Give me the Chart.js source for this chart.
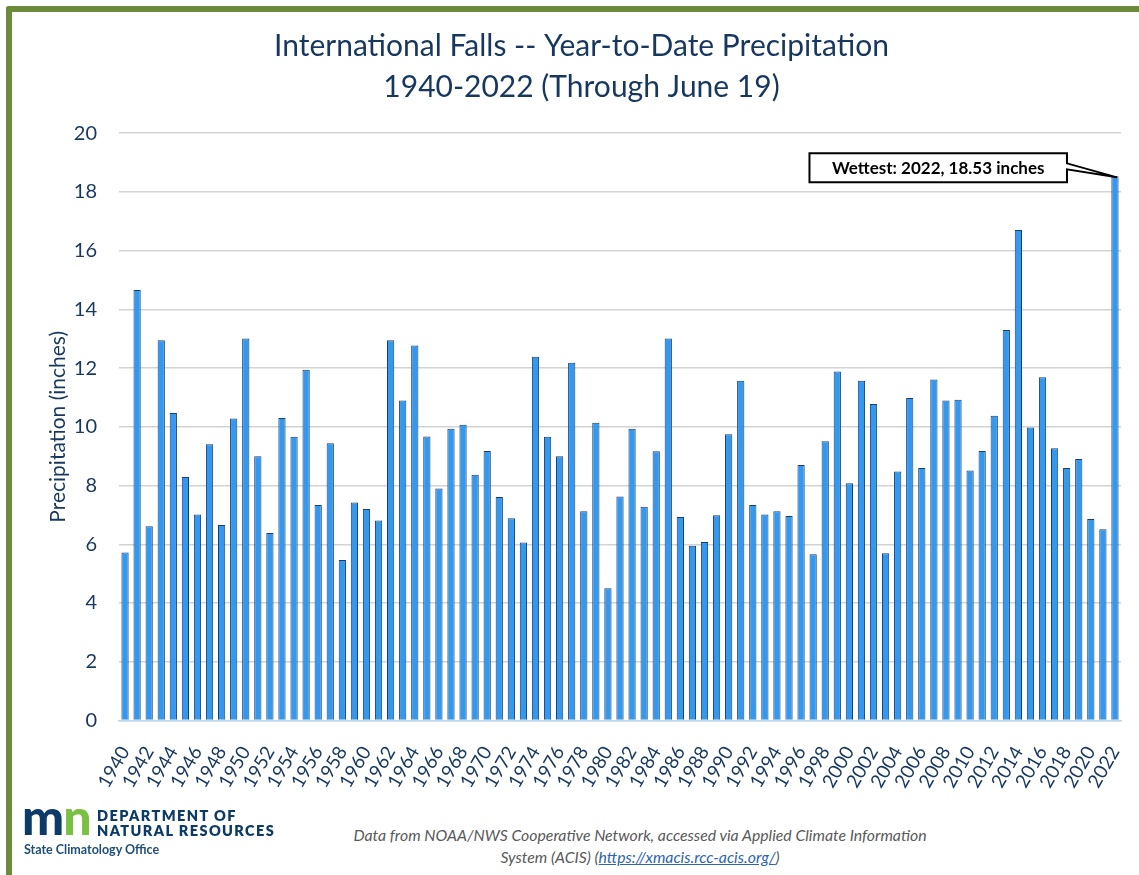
<!DOCTYPE html>
<html>
<head>
<meta charset="utf-8">
<script src="https://cdn.jsdelivr.net/npm/chart.js@4.4.0/dist/chart.umd.min.js"></script>
<style>
  html, body { margin: 0; padding: 0; background: #fff; }
  body { width: 1139px; height: 875px; position: relative; overflow: hidden; font-family: Lato, sans-serif; }
  .frame { position: absolute; left: 6px; top: 6px; width: 1200px; height: 900px;
    border-top: 6.5px solid #6B8A3A; border-left: 6.5px solid #6B8A3A; border-top-left-radius: 3px; }
  .wrap { position: absolute; left: 12px; top: 12px; width: 1127px; height: 794px; }
  .logo-mn { position: absolute; left: 22px; top: 791px; font: 900 50px/1 Lato, sans-serif; letter-spacing: -1px; }
  .logo-mn .m { color: #0B3B66; }
  .logo-mn .n { color: #7AC143; }
  .dept { position: absolute; left: 97px; top: 808px; font: 800 14.5px/15px Lato, sans-serif; color: #0B3B66; letter-spacing: 1.4px; }
  .office { position: absolute; left: 24px; top: 843px; font: 700 12.5px/14px Lato, sans-serif; color: #1F4E79; }
  .note { position: absolute; left: 290px; width: 700px; top: 824px; text-align: center;
    font: italic 15.8px/22px Lato, sans-serif; color: #595959; }
  .note a { color: #2E64B0; text-decoration: underline; }
</style>
</head>
<body>
<div class="frame"></div>
<div class="wrap"><canvas id="precipChart"></canvas></div>
<div class="logo-mn"><span class="m">m</span><span class="n">n</span></div>
<div class="dept">DEPARTMENT OF<br>NATURAL RESOURCES</div>
<div class="office">State Climatology Office</div>
<div class="note">Data from NOAA/NWS Cooperative Network, accessed via Applied Climate Information<br>System (ACIS) (<a>https://xmacis.rcc-acis.org/</a>)</div>
<script>
// Year-to-date precipitation through June 19, International Falls
const years = [];
for (let y = 1940; y <= 2022; y++) years.push(String(y));

const precip = [
  5.72, 14.66, 6.61, 12.95, 10.47, 8.29, 7.01, 9.41, 6.66, 10.28,
  13.01, 9.00, 6.38, 10.30, 9.66, 11.94, 7.34, 9.44, 5.46, 7.42,
  7.20, 6.81, 12.95, 10.90, 12.77, 9.67, 7.90, 9.93, 10.07, 8.37,
  9.18, 7.61, 6.89, 6.06, 12.39, 9.66, 9.00, 12.18, 7.12, 10.14,
  4.50, 7.63, 9.93, 7.28, 9.17, 13.01, 6.93, 5.95, 6.08, 6.99,
  9.75, 11.57, 7.34, 7.01, 7.12, 6.96, 8.70, 5.66, 9.51, 11.88,
  8.08, 11.57, 10.78, 5.69, 8.48, 10.98, 8.60, 11.61, 10.90, 10.92,
  8.51, 9.18, 10.38, 13.30, 16.70, 9.98, 11.69, 9.27, 8.60, 8.90,
  6.86, 6.51, 18.53
];

const yTicks = [0, 2, 4, 6, 8, 10, 12, 14, 16, 18, 20];
const calloutText = 'Wettest: 2022, 18.53 inches';
const navy = '#17375E';

// Excel-style callout pointing at the wettest year
const calloutPlugin = {
  id: 'callout',
  afterDatasetsDraw(chart) {
    const meta = chart.getDatasetMeta(0);
    const idx = precip.indexOf(Math.max(...precip));
    const bar = meta.data[idx];
    const ctx = chart.ctx;
    ctx.save();
    ctx.font = 'bold 17px Lato, sans-serif';
    const w = ctx.measureText(calloutText).width + 45;
    const h = 29;
    const right = bar.x - 48;
    const left = right - w;
    const top = bar.y - 23;
    ctx.fillStyle = '#fff';
    ctx.strokeStyle = '#000';
    ctx.lineWidth = 2;
    ctx.beginPath();
    ctx.moveTo(left, top);
    ctx.lineTo(right, top);
    ctx.lineTo(right, top + 10);
    ctx.lineTo(bar.x + 2, bar.y + 1);
    ctx.lineTo(right, top + 16);
    ctx.lineTo(right, top + h);
    ctx.lineTo(left, top + h);
    ctx.closePath();
    ctx.fill();
    ctx.stroke();
    ctx.fillStyle = '#000';
    ctx.textBaseline = 'middle';
    ctx.textAlign = 'center';
    ctx.fillText(calloutText, left + w / 2, top + h / 2 + 1);
    ctx.restore();
  }
};

function createPrecipChart() {
  const canvas = document.getElementById('precipChart');
  const ctx = canvas.getContext('2d');
  new Chart(ctx, {
    type: 'bar',
    data: {
      labels: years,
      datasets: [{
        data: precip,
        backgroundColor: '#3399F0',
        borderColor: '#1B3F6B',
        borderWidth: 1,
        barPercentage: 0.6,
        categoryPercentage: 1.0
      }]
    },
    options: {
      responsive: true,
      maintainAspectRatio: false,
      animation: false,
      layout: { padding: { left: 30, right: 18, top: 0, bottom: 0 } },
      plugins: {
        legend: { display: false },
        tooltip: { enabled: false },
        title: {
          display: true,
          text: ['International Falls -- Year-to-Date Precipitation', '1940-2022 (Through June 19)'],
          color: navy,
          font: { family: 'Lato, sans-serif', size: 30, weight: 'normal', lineHeight: 1.37 },
          padding: { top: 14, bottom: 25 }
        }
      },
      scales: {
        x: {
          afterFit: function(axis) { axis.paddingRight = 0; },
          grid: { display: false },
          border: { color: '#BDD7EE', width: 1.5 },
          ticks: {
            autoSkip: false,
            minRotation: 60,
            maxRotation: 60,
            color: navy,
            font: { family: 'Lato, sans-serif', size: 19 },
            padding: 14,
            callback: function(value, index) { return index % 2 === 0 ? years[index] : ''; }
          }
        },
        y: {
          min: yTicks[0],
          max: yTicks[yTicks.length - 1],
          afterBuildTicks: function(axis) { axis.ticks = yTicks.map(v => ({ value: v })); },
          afterFit: function(axis) { axis.width = 77; },
          grid: { color: '#D3D3D3', lineWidth: 1.5, drawTicks: false },
          border: { display: false },
          ticks: {
            color: navy,
            font: { family: 'Lato, sans-serif', size: 20 },
            padding: 22
          },
          title: {
            display: true,
            text: 'Precipitation (inches)',
            color: navy,
            font: { family: 'Lato, sans-serif', size: 21 }
          }
        }
      }
    },
    plugins: [calloutPlugin]
  });
}

createPrecipChart();
</script>
</body>
</html>
